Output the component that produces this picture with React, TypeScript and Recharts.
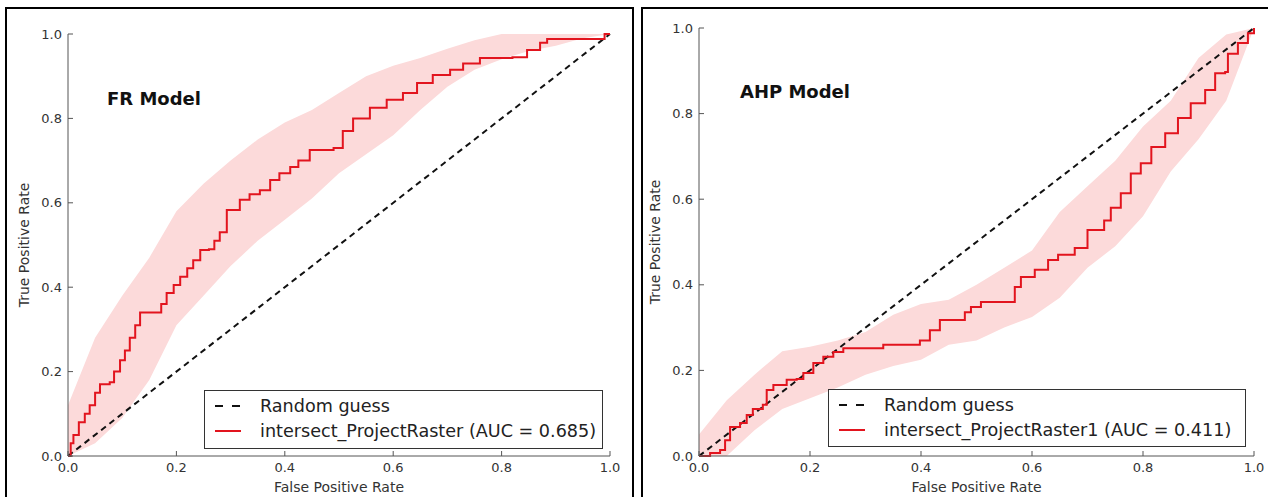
import React from 'react';
import { ComposedChart, Line, Area, XAxis, YAxis, Legend } from 'recharts';

const TICKS = [0, 0.2, 0.4, 0.6, 0.8, 1.0];

const DIAG_FPR = [0, 1];
const DIAG_TPR = [0, 1];

// FR model - mean ROC
const FR_FPR = [0, 0.005, 0.01, 0.02, 0.031, 0.04, 0.05, 0.059, 0.077, 0.085, 0.096, 0.105, 0.114, 0.124, 0.133, 0.164, 0.172, 0.182, 0.195, 0.207, 0.22, 0.231, 0.244, 0.26, 0.27, 0.28, 0.293, 0.317, 0.335, 0.354, 0.373, 0.39, 0.41, 0.425, 0.446, 0.49, 0.507, 0.526, 0.557, 0.588, 0.618, 0.644, 0.673, 0.705, 0.729, 0.76, 0.82, 0.847, 0.871, 0.884, 0.976, 0.99, 1];
const FR_TPR = [0, 0.03, 0.05, 0.08, 0.1, 0.12, 0.15, 0.17, 0.175, 0.2, 0.227, 0.25, 0.28, 0.31, 0.34, 0.34, 0.36, 0.386, 0.405, 0.425, 0.445, 0.464, 0.488, 0.49, 0.51, 0.53, 0.583, 0.607, 0.62, 0.63, 0.654, 0.67, 0.685, 0.7, 0.725, 0.73, 0.77, 0.8, 0.825, 0.844, 0.86, 0.884, 0.903, 0.915, 0.93, 0.943, 0.945, 0.962, 0.979, 0.988, 0.988, 1, 1];

// shaded +/- band, same fpr grid for both models
const BAND_FPR = [0, 0.05, 0.1, 0.15, 0.2, 0.25, 0.3, 0.35, 0.4, 0.45, 0.5, 0.55, 0.6, 0.65, 0.7, 0.75, 0.8, 0.85, 0.9, 0.95, 1];
const FR_LO = [0, 0.03, 0.09, 0.18, 0.31, 0.38, 0.45, 0.51, 0.56, 0.61, 0.67, 0.715, 0.76, 0.82, 0.875, 0.915, 0.94, 0.96, 0.972, 0.99, 1];
const FR_HI = [0.12, 0.28, 0.38, 0.47, 0.58, 0.645, 0.7, 0.75, 0.79, 0.82, 0.86, 0.9, 0.925, 0.943, 0.965, 0.985, 1, 1, 1, 1, 1];

// AHP model - mean ROC
const AHP_FPR = [0, 0.02, 0.038, 0.047, 0.056, 0.074, 0.086, 0.097, 0.115, 0.122, 0.134, 0.158, 0.176, 0.188, 0.206, 0.224, 0.242, 0.26, 0.326, 0.332, 0.398, 0.416, 0.434, 0.472, 0.479, 0.49, 0.508, 0.562, 0.569, 0.58, 0.605, 0.629, 0.647, 0.677, 0.7, 0.73, 0.742, 0.76, 0.778, 0.796, 0.815, 0.84, 0.863, 0.886, 0.912, 0.93, 0.948, 0.953, 0.971, 0.989, 1];
const AHP_TPR = [0, 0.007, 0.014, 0.037, 0.068, 0.077, 0.096, 0.11, 0.12, 0.154, 0.166, 0.178, 0.18, 0.194, 0.217, 0.232, 0.243, 0.252, 0.252, 0.26, 0.27, 0.294, 0.318, 0.318, 0.336, 0.348, 0.36, 0.36, 0.395, 0.418, 0.435, 0.458, 0.47, 0.486, 0.528, 0.55, 0.58, 0.614, 0.66, 0.684, 0.722, 0.754, 0.79, 0.824, 0.855, 0.894, 0.897, 0.94, 0.965, 0.988, 1];
const AHP_LO = [0, 0, 0.06, 0.11, 0.135, 0.16, 0.19, 0.21, 0.225, 0.26, 0.27, 0.3, 0.325, 0.37, 0.44, 0.49, 0.56, 0.665, 0.74, 0.83, 1];
const AHP_HI = [0.05, 0.13, 0.19, 0.245, 0.255, 0.27, 0.29, 0.33, 0.355, 0.365, 0.4, 0.44, 0.48, 0.57, 0.63, 0.69, 0.77, 0.83, 0.93, 0.985, 1];

const FR_NAME = 'intersect_ProjectRaster (AUC = 0.685)';
const AHP_NAME = 'intersect_ProjectRaster1 (AUC = 0.411)';

const FONT = '"DejaVu Sans", sans-serif';
const AXIS = '#555';
const TXT = '#333';
const RED = '#e2141e';
const BAND = '#fcdada';

function buildRows(fpr: number[], tpr: number[], lo: number[], hi: number[]) {
  const rows: any[] = [];
  fpr.forEach((x, i) => rows.push({ fpr: x, roc: tpr[i] }));
  BAND_FPR.forEach((x, i) => rows.push({ fpr: x, band: [lo[i], hi[i]] }));
  DIAG_FPR.forEach((x, i) => rows.push({ fpr: x, diag: DIAG_TPR[i] }));
  return rows.sort((a, b) => a.fpr - b.fpr);
}

const BottomTick = (p: any) => (
  <g>
    <line x1={p.x} x2={p.x} y1={p.y} y2={p.y - 5} stroke={AXIS} />
    <text x={p.x} y={p.y + 16} textAnchor="middle" fontSize={13} fill={TXT} fontFamily={FONT}>
      {Number(p.payload.value).toFixed(1)}
    </text>
  </g>
);
const LeftTick = (p: any) => (
  <g>
    <line x1={p.x} x2={p.x + 5} y1={p.y} y2={p.y} stroke={AXIS} />
    <text x={p.x - 6} y={p.y} dy="0.36em" textAnchor="end" fontSize={13} fill={TXT} fontFamily={FONT}>
      {Number(p.payload.value).toFixed(1)}
    </text>
  </g>
);
const TopTick = (p: any) => <line x1={p.x} x2={p.x} y1={p.y} y2={p.y + 5} stroke={AXIS} />;
const RightTick = (p: any) => <line x1={p.x} x2={p.x - 5} y1={p.y} y2={p.y} stroke={AXIS} />;

const xTitle = (p: any) => {
  const vb = p.viewBox;
  return (
    <text x={vb.x + vb.width / 2} y={vb.y + 36} textAnchor="middle" fontSize={14} fill={TXT} fontFamily={FONT}>
      False Positive Rate
    </text>
  );
};
const yTitle = (p: any) => {
  const vb = p.viewBox;
  return (
    <text
      transform={`translate(${vb.x - 4},${vb.y + vb.height / 2}) rotate(-90)`}
      textAnchor="middle"
      dominantBaseline="central"
      fontSize={14}
      fill={TXT}
      fontFamily={FONT}
    >
      True Positive Rate
    </text>
  );
};

const LegendBox = ({ payload, w, h }: any) => {
  const items = (payload || []).filter((it: any) => it.type !== 'none');
  return (
    <svg width={w} height={h} style={{ display: 'block' }}>
      <rect x={0.5} y={0.5} width={w - 1} height={h - 1} fill="#fff" stroke="#333" />
      {items.map((it: any, i: number) => {
        const cy = 16 + i * 25;
        const dashed = !!(it.payload && it.payload.strokeDasharray);
        return (
          <g key={i}>
            <line x1={11} x2={37} y1={cy} y2={cy} stroke={it.color} strokeWidth={2} strokeDasharray={dashed ? '8 9' : undefined} />
            <text x={56} y={cy} dy="0.36em" fontSize={17.6} fill="#222" fontFamily={FONT}>
              {it.value}
            </text>
          </g>
        );
      })}
    </svg>
  );
};

interface PanelProps {
  rows: any[];
  name: string;
  width: number;
  margin: { top: number; right: number; bottom: number; left: number };
  legend: { left: number; top: number; w: number; h: number };
}

function RocPanel({ rows, name, width, margin, legend }: PanelProps) {
  return (
    <ComposedChart width={width} height={497} data={rows} margin={margin}>
      <XAxis
        dataKey="fpr"
        type="number"
        domain={[0, 1]}
        ticks={TICKS}
        interval={0}
        height={41}
        tickSize={0}
        tickMargin={0}
        tickLine={false}
        axisLine={{ stroke: AXIS }}
        tick={BottomTick}
        label={{ content: xTitle }}
      />
      <XAxis
        xAxisId="top"
        orientation="top"
        dataKey="fpr"
        type="number"
        domain={[0, 1]}
        ticks={TICKS}
        interval={0}
        height={0}
        tickSize={0}
        tickMargin={0}
        tickLine={false}
        axisLine={{ stroke: AXIS }}
        tick={TopTick}
      />
      <YAxis
        type="number"
        domain={[0, 1]}
        ticks={TICKS}
        interval={0}
        width={40}
        tickSize={0}
        tickMargin={0}
        tickLine={false}
        axisLine={{ stroke: AXIS }}
        tick={LeftTick}
        label={{ content: yTitle }}
      />
      <YAxis
        yAxisId="right"
        orientation="right"
        type="number"
        domain={[0, 1]}
        ticks={TICKS}
        interval={0}
        width={0}
        tickSize={0}
        tickMargin={0}
        tickLine={false}
        axisLine={{ stroke: AXIS }}
        tick={RightTick}
      />
      <Area dataKey="band" type="linear" fill={BAND} fillOpacity={1} stroke="none" connectNulls legendType="none" isAnimationActive={false} />
      <Line dataKey="diag" name="Random guess" type="linear" stroke="#111" strokeWidth={2} strokeDasharray="6 4.5" dot={false} connectNulls isAnimationActive={false} />
      <Line dataKey="roc" name={name} type="stepAfter" stroke={RED} strokeWidth={2} dot={false} connectNulls isAnimationActive={false} />
      <Legend
        layout="vertical"
        align="center"
        verticalAlign="middle"
        wrapperStyle={{ left: legend.left, top: legend.top, width: legend.w, height: legend.h }}
        content={(p: any) => <LegendBox payload={p.payload} w={legend.w} h={legend.h} />}
      />
    </ComposedChart>
  );
}

const titleStyle: React.CSSProperties = {
  position: 'absolute',
  fontFamily: FONT,
  fontWeight: 'bold',
  fontSize: 18,
  lineHeight: 1,
  color: '#111',
  whiteSpace: 'nowrap',
};

export default function App() {
  const frRows = buildRows(FR_FPR, FR_TPR, FR_LO, FR_HI);
  const ahpRows = buildRows(AHP_FPR, AHP_TPR, AHP_LO, AHP_HI);
  return (
    <div style={{ position: 'absolute', left: 0, top: 0, width: 1268, height: 497, overflow: 'hidden', background: '#fff' }}>
      <div style={{ position: 'absolute', left: 5, top: 7, width: 629, height: 520, border: '2px solid #000', boxSizing: 'border-box' }} />
      <div style={{ position: 'absolute', left: 641, top: 7, width: 660, height: 520, border: '2px solid #000', boxSizing: 'border-box' }} />
      <div style={{ position: 'absolute', left: 0, top: 0 }}>
        <RocPanel rows={frRows} name={FR_NAME} width={634} margin={{ top: 34, right: 24, bottom: 0, left: 28 }} legend={{ left: 204, top: 390, w: 399, h: 59 }} />
      </div>
      <div style={{ position: 'absolute', left: 636, top: 0 }}>
        <RocPanel rows={ahpRows} name={AHP_NAME} width={632} margin={{ top: 28, right: 14, bottom: 0, left: 23 }} legend={{ left: 192, top: 389, w: 418, h: 58 }} />
      </div>
      <div style={{ ...titleStyle, left: 107, top: 90 }}>FR Model</div>
      <div style={{ ...titleStyle, left: 740, top: 83 }}>AHP Model</div>
    </div>
  );
}
